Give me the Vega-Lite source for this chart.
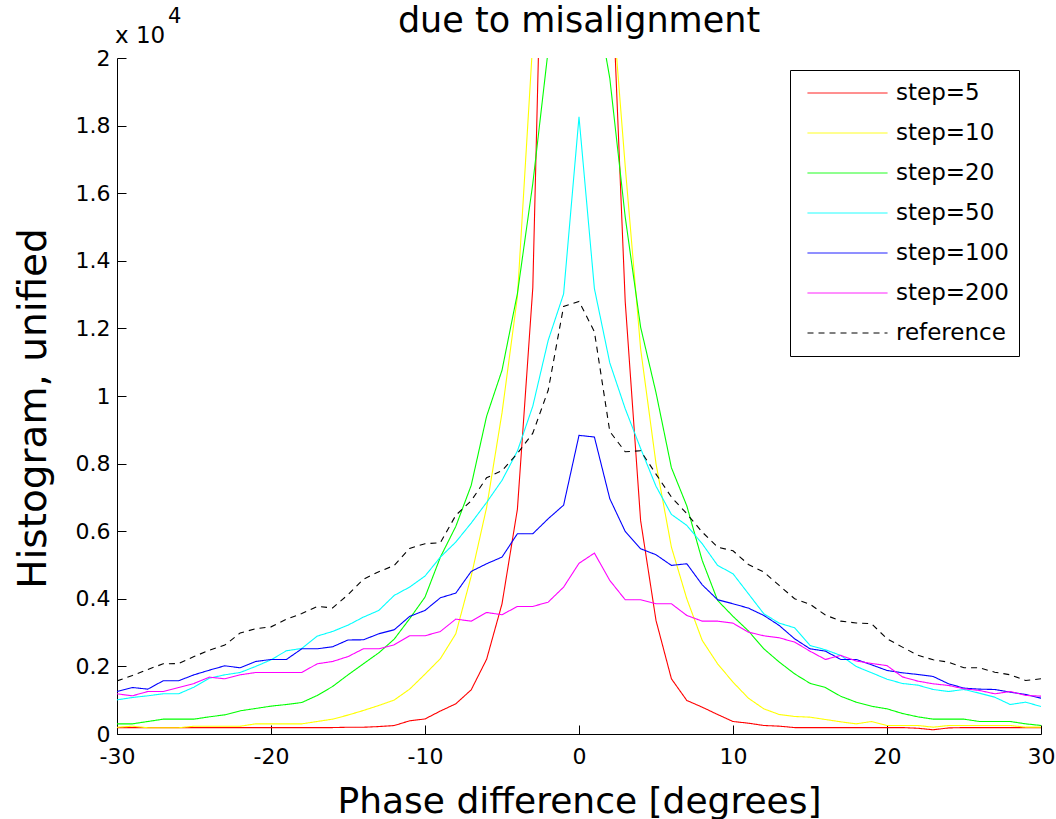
{
  "$schema": "https://vega.github.io/schema/vega-lite/v6.json",
  "width": 924,
  "height": 676,
  "autosize": "none",
  "padding": {"left": 117, "top": 58, "right": 15, "bottom": 85},
  "background": "white",
  "title": {"text": "due to misalignment", "fontSize": 35, "fontWeight": "normal", "font": "DejaVu Sans", "color": "black", "anchor": "middle", "frame": "group", "baseline": "alphabetic", "offset": -61},
  "config": {
    "view": {"stroke": null},
    "font": "DejaVu Sans",
    "axis": {"grid": false, "domainColor": "black", "domainWidth": 1, "tickColor": "black", "tickWidth": 1, "labelColor": "black", "titleColor": "black", "labelFontSize": 22, "titleFontSize": 36, "titleFontWeight": "normal", "labelFont": "DejaVu Sans", "titleFont": "DejaVu Sans", "tickSize": -9, "labelOverlap": false, "labelFlush": false}
  },
  "layer": [
    {
      "data": {"values": [
        {"series":"step=5","phase":-30,"count":190},{"series":"step=5","phase":-29,"count":190},{"series":"step=5","phase":-28,"count":190},{"series":"step=5","phase":-27,"count":190},{"series":"step=5","phase":-26,"count":190},{"series":"step=5","phase":-25,"count":190},{"series":"step=5","phase":-24,"count":190},{"series":"step=5","phase":-23,"count":190},{"series":"step=5","phase":-22,"count":190},{"series":"step=5","phase":-21,"count":190},{"series":"step=5","phase":-20,"count":190},{"series":"step=5","phase":-19,"count":190},{"series":"step=5","phase":-18,"count":190},{"series":"step=5","phase":-17,"count":190},{"series":"step=5","phase":-16,"count":190},{"series":"step=5","phase":-15,"count":200},{"series":"step=5","phase":-14,"count":200},{"series":"step=5","phase":-13,"count":220},{"series":"step=5","phase":-12,"count":250},{"series":"step=5","phase":-11,"count":390},{"series":"step=5","phase":-10,"count":445},{"series":"step=5","phase":-9,"count":680},{"series":"step=5","phase":-8,"count":893},{"series":"step=5","phase":-7,"count":1307},{"series":"step=5","phase":-6,"count":2210},{"series":"step=5","phase":-5,"count":3850},{"series":"step=5","phase":-4,"count":6650},{"series":"step=5","phase":-3,"count":13200},{"series":"step=5","phase":-2,"count":32000},{"series":"step=5","phase":-1,"count":70000},{"series":"step=5","phase":0,"count":90000},{"series":"step=5","phase":1,"count":70000},{"series":"step=5","phase":2,"count":24000},{"series":"step=5","phase":3,"count":12800},{"series":"step=5","phase":4,"count":6320},{"series":"step=5","phase":5,"count":3360},{"series":"step=5","phase":6,"count":1634},{"series":"step=5","phase":7,"count":992},{"series":"step=5","phase":8,"count":794},{"series":"step=5","phase":9,"count":577},{"series":"step=5","phase":10,"count":370},{"series":"step=5","phase":11,"count":320},{"series":"step=5","phase":12,"count":252},{"series":"step=5","phase":13,"count":232},{"series":"step=5","phase":14,"count":190},{"series":"step=5","phase":15,"count":190},{"series":"step=5","phase":16,"count":190},{"series":"step=5","phase":17,"count":190},{"series":"step=5","phase":18,"count":190},{"series":"step=5","phase":19,"count":190},{"series":"step=5","phase":20,"count":190},{"series":"step=5","phase":21,"count":190},{"series":"step=5","phase":22,"count":170},{"series":"step=5","phase":23,"count":125},{"series":"step=5","phase":24,"count":180},{"series":"step=5","phase":25,"count":190},{"series":"step=5","phase":26,"count":190},{"series":"step=5","phase":27,"count":190},{"series":"step=5","phase":28,"count":190},{"series":"step=5","phase":29,"count":190},{"series":"step=5","phase":30,"count":190},
        {"series":"step=10","phase":-30,"count":200},{"series":"step=10","phase":-29,"count":230},{"series":"step=10","phase":-28,"count":185},{"series":"step=10","phase":-27,"count":185},{"series":"step=10","phase":-26,"count":185},{"series":"step=10","phase":-25,"count":230},{"series":"step=10","phase":-24,"count":230},{"series":"step=10","phase":-23,"count":230},{"series":"step=10","phase":-22,"count":230},{"series":"step=10","phase":-21,"count":300},{"series":"step=10","phase":-20,"count":300},{"series":"step=10","phase":-19,"count":300},{"series":"step=10","phase":-18,"count":300},{"series":"step=10","phase":-17,"count":370},{"series":"step=10","phase":-16,"count":440},{"series":"step=10","phase":-15,"count":560},{"series":"step=10","phase":-14,"count":696},{"series":"step=10","phase":-13,"count":844},{"series":"step=10","phase":-12,"count":1005},{"series":"step=10","phase":-11,"count":1326},{"series":"step=10","phase":-10,"count":1770},{"series":"step=10","phase":-9,"count":2230},{"series":"step=10","phase":-8,"count":2965},{"series":"step=10","phase":-7,"count":4670},{"series":"step=10","phase":-6,"count":6700},{"series":"step=10","phase":-5,"count":9500},{"series":"step=10","phase":-4,"count":12930},{"series":"step=10","phase":-3,"count":20500},{"series":"step=10","phase":-2,"count":45000},{"series":"step=10","phase":-1,"count":70000},{"series":"step=10","phase":0,"count":80000},{"series":"step=10","phase":1,"count":70000},{"series":"step=10","phase":2,"count":22600},{"series":"step=10","phase":3,"count":16800},{"series":"step=10","phase":4,"count":11400},{"series":"step=10","phase":5,"count":8000},{"series":"step=10","phase":6,"count":5530},{"series":"step=10","phase":7,"count":4000},{"series":"step=10","phase":8,"count":2770},{"series":"step=10","phase":9,"count":2077},{"series":"step=10","phase":10,"count":1534},{"series":"step=10","phase":11,"count":1060},{"series":"step=10","phase":12,"count":745},{"series":"step=10","phase":13,"count":577},{"series":"step=10","phase":14,"count":518},{"series":"step=10","phase":15,"count":498},{"series":"step=10","phase":16,"count":429},{"series":"step=10","phase":17,"count":360},{"series":"step=10","phase":18,"count":301},{"series":"step=10","phase":19,"count":370},{"series":"step=10","phase":20,"count":252},{"series":"step=10","phase":21,"count":252},{"series":"step=10","phase":22,"count":252},{"series":"step=10","phase":23,"count":202},{"series":"step=10","phase":24,"count":252},{"series":"step=10","phase":25,"count":252},{"series":"step=10","phase":26,"count":252},{"series":"step=10","phase":27,"count":252},{"series":"step=10","phase":28,"count":252},{"series":"step=10","phase":29,"count":202},{"series":"step=10","phase":30,"count":202},
        {"series":"step=20","phase":-30,"count":300},{"series":"step=20","phase":-29,"count":300},{"series":"step=20","phase":-28,"count":370},{"series":"step=20","phase":-27,"count":439},{"series":"step=20","phase":-26,"count":439},{"series":"step=20","phase":-25,"count":439},{"series":"step=20","phase":-24,"count":508},{"series":"step=20","phase":-23,"count":567},{"series":"step=20","phase":-22,"count":686},{"series":"step=20","phase":-21,"count":755},{"series":"step=20","phase":-20,"count":824},{"series":"step=20","phase":-19,"count":873},{"series":"step=20","phase":-18,"count":932},{"series":"step=20","phase":-17,"count":1140},{"series":"step=20","phase":-16,"count":1406},{"series":"step=20","phase":-15,"count":1750},{"series":"step=20","phase":-14,"count":2077},{"series":"step=20","phase":-13,"count":2402},{"series":"step=20","phase":-12,"count":2806},{"series":"step=20","phase":-11,"count":3409},{"series":"step=20","phase":-10,"count":4050},{"series":"step=20","phase":-9,"count":5234},{"series":"step=20","phase":-8,"count":6142},{"series":"step=20","phase":-7,"count":7356},{"series":"step=20","phase":-6,"count":9400},{"series":"step=20","phase":-5,"count":10760},{"series":"step=20","phase":-4,"count":13030},{"series":"step=20","phase":-3,"count":16286},{"series":"step=20","phase":-2,"count":20240},{"series":"step=20","phase":-1,"count":35000},{"series":"step=20","phase":0,"count":50000},{"series":"step=20","phase":1,"count":22000},{"series":"step=20","phase":2,"count":19400},{"series":"step=20","phase":3,"count":15300},{"series":"step=20","phase":4,"count":12040},{"series":"step=20","phase":5,"count":10100},{"series":"step=20","phase":6,"count":7880},{"series":"step=20","phase":7,"count":6750},{"series":"step=20","phase":8,"count":5136},{"series":"step=20","phase":9,"count":3952},{"series":"step=20","phase":10,"count":3480},{"series":"step=20","phase":11,"count":3050},{"series":"step=20","phase":12,"count":2521},{"series":"step=20","phase":13,"count":2130},{"series":"step=20","phase":14,"count":1780},{"series":"step=20","phase":15,"count":1500},{"series":"step=20","phase":16,"count":1376},{"series":"step=20","phase":17,"count":1115},{"series":"step=20","phase":18,"count":942},{"series":"step=20","phase":19,"count":820},{"series":"step=20","phase":20,"count":745},{"series":"step=20","phase":21,"count":607},{"series":"step=20","phase":22,"count":508},{"series":"step=20","phase":23,"count":439},{"series":"step=20","phase":24,"count":439},{"series":"step=20","phase":25,"count":439},{"series":"step=20","phase":26,"count":370},{"series":"step=20","phase":27,"count":370},{"series":"step=20","phase":28,"count":370},{"series":"step=20","phase":29,"count":301},{"series":"step=20","phase":30,"count":252},
        {"series":"step=50","phase":-30,"count":1010},{"series":"step=50","phase":-29,"count":1080},{"series":"step=50","phase":-28,"count":1130},{"series":"step=50","phase":-27,"count":1189},{"series":"step=50","phase":-26,"count":1189},{"series":"step=50","phase":-25,"count":1386},{"series":"step=50","phase":-24,"count":1652},{"series":"step=50","phase":-23,"count":1751},{"series":"step=50","phase":-22,"count":1820},{"series":"step=50","phase":-21,"count":1998},{"series":"step=50","phase":-20,"count":2195},{"series":"step=50","phase":-19,"count":2462},{"series":"step=50","phase":-18,"count":2531},{"series":"step=50","phase":-17,"count":2896},{"series":"step=50","phase":-16,"count":3034},{"series":"step=50","phase":-15,"count":3220},{"series":"step=50","phase":-14,"count":3458},{"series":"step=50","phase":-13,"count":3656},{"series":"step=50","phase":-12,"count":4100},{"series":"step=50","phase":-11,"count":4346},{"series":"step=50","phase":-10,"count":4672},{"series":"step=50","phase":-9,"count":5234},{"series":"step=50","phase":-8,"count":5678},{"series":"step=50","phase":-7,"count":6241},{"series":"step=50","phase":-6,"count":6850},{"series":"step=50","phase":-5,"count":7504},{"series":"step=50","phase":-4,"count":8370},{"series":"step=50","phase":-3,"count":9700},{"series":"step=50","phase":-2,"count":11648},{"series":"step=50","phase":-1,"count":13020},{"series":"step=50","phase":0,"count":18258},{"series":"step=50","phase":1,"count":13178},{"series":"step=50","phase":2,"count":10980},{"series":"step=50","phase":3,"count":9625},{"series":"step=50","phase":4,"count":8450},{"series":"step=50","phase":5,"count":7330},{"series":"step=50","phase":6,"count":6497},{"series":"step=50","phase":7,"count":6172},{"series":"step=50","phase":8,"count":5630},{"series":"step=50","phase":9,"count":4988},{"series":"step=50","phase":10,"count":4741},{"series":"step=50","phase":11,"count":4150},{"series":"step=50","phase":12,"count":3558},{"series":"step=50","phase":13,"count":3280},{"series":"step=50","phase":14,"count":3143},{"series":"step=50","phase":15,"count":2620},{"series":"step=50","phase":16,"count":2492},{"series":"step=50","phase":17,"count":2324},{"series":"step=50","phase":18,"count":1998},{"series":"step=50","phase":19,"count":1811},{"series":"step=50","phase":20,"count":1622},{"series":"step=50","phase":21,"count":1495},{"series":"step=50","phase":22,"count":1445},{"series":"step=50","phase":23,"count":1317},{"series":"step=50","phase":24,"count":1258},{"series":"step=50","phase":25,"count":1317},{"series":"step=50","phase":26,"count":1208},{"series":"step=50","phase":27,"count":1089},{"series":"step=50","phase":28,"count":873},{"series":"step=50","phase":29,"count":942},{"series":"step=50","phase":30,"count":814},
        {"series":"step=100","phase":-30,"count":1258},{"series":"step=100","phase":-29,"count":1376},{"series":"step=100","phase":-28,"count":1327},{"series":"step=100","phase":-27,"count":1575},{"series":"step=100","phase":-26,"count":1575},{"series":"step=100","phase":-25,"count":1751},{"series":"step=100","phase":-24,"count":1889},{"series":"step=100","phase":-23,"count":2018},{"series":"step=100","phase":-22,"count":1959},{"series":"step=100","phase":-21,"count":2146},{"series":"step=100","phase":-20,"count":2205},{"series":"step=100","phase":-19,"count":2205},{"series":"step=100","phase":-18,"count":2521},{"series":"step=100","phase":-17,"count":2521},{"series":"step=100","phase":-16,"count":2580},{"series":"step=100","phase":-15,"count":2782},{"series":"step=100","phase":-14,"count":2787},{"series":"step=100","phase":-13,"count":2965},{"series":"step=100","phase":-12,"count":3083},{"series":"step=100","phase":-11,"count":3478},{"series":"step=100","phase":-10,"count":3656},{"series":"step=100","phase":-9,"count":4031},{"series":"step=100","phase":-8,"count":4168},{"series":"step=100","phase":-7,"count":4810},{"series":"step=100","phase":-6,"count":5037},{"series":"step=100","phase":-5,"count":5234},{"series":"step=100","phase":-4,"count":5925},{"series":"step=100","phase":-3,"count":5925},{"series":"step=100","phase":-2,"count":6369},{"series":"step=100","phase":-1,"count":6770},{"series":"step=100","phase":0,"count":8836},{"series":"step=100","phase":1,"count":8786},{"series":"step=100","phase":2,"count":6961},{"series":"step=100","phase":3,"count":5994},{"series":"step=100","phase":4,"count":5481},{"series":"step=100","phase":5,"count":5304},{"series":"step=100","phase":6,"count":4988},{"series":"step=100","phase":7,"count":5037},{"series":"step=100","phase":8,"count":4415},{"series":"step=100","phase":9,"count":3972},{"series":"step=100","phase":10,"count":3853},{"series":"step=100","phase":11,"count":3725},{"series":"step=100","phase":12,"count":3508},{"series":"step=100","phase":13,"count":3212},{"series":"step=100","phase":14,"count":2817},{"series":"step=100","phase":15,"count":2521},{"series":"step=100","phase":16,"count":2452},{"series":"step=100","phase":17,"count":2205},{"series":"step=100","phase":18,"count":2205},{"series":"step=100","phase":19,"count":2047},{"series":"step=100","phase":20,"count":1880},{"series":"step=100","phase":21,"count":1811},{"series":"step=100","phase":22,"count":1761},{"series":"step=100","phase":23,"count":1702},{"series":"step=100","phase":24,"count":1485},{"series":"step=100","phase":25,"count":1357},{"series":"step=100","phase":26,"count":1327},{"series":"step=100","phase":27,"count":1317},{"series":"step=100","phase":28,"count":1238},{"series":"step=100","phase":29,"count":1169},{"series":"step=100","phase":30,"count":1060},
        {"series":"step=200","phase":-30,"count":1189},{"series":"step=200","phase":-29,"count":1130},{"series":"step=200","phase":-28,"count":1258},{"series":"step=200","phase":-27,"count":1258},{"series":"step=200","phase":-26,"count":1376},{"series":"step=200","phase":-25,"count":1495},{"series":"step=200","phase":-24,"count":1682},{"series":"step=200","phase":-23,"count":1633},{"series":"step=200","phase":-22,"count":1751},{"series":"step=200","phase":-21,"count":1820},{"series":"step=200","phase":-20,"count":1820},{"series":"step=200","phase":-19,"count":1820},{"series":"step=200","phase":-18,"count":1820},{"series":"step=200","phase":-17,"count":2077},{"series":"step=200","phase":-16,"count":2146},{"series":"step=200","phase":-15,"count":2290},{"series":"step=200","phase":-14,"count":2521},{"series":"step=200","phase":-13,"count":2521},{"series":"step=200","phase":-12,"count":2640},{"series":"step=200","phase":-11,"count":2906},{"series":"step=200","phase":-10,"count":2906},{"series":"step=200","phase":-9,"count":3034},{"series":"step=200","phase":-8,"count":3399},{"series":"step=200","phase":-7,"count":3339},{"series":"step=200","phase":-6,"count":3596},{"series":"step=200","phase":-5,"count":3528},{"series":"step=200","phase":-4,"count":3774},{"series":"step=200","phase":-3,"count":3774},{"series":"step=200","phase":-2,"count":3902},{"series":"step=200","phase":-1,"count":4346},{"series":"step=200","phase":0,"count":5050},{"series":"step=200","phase":1,"count":5352},{"series":"step=200","phase":2,"count":4544},{"series":"step=200","phase":3,"count":3972},{"series":"step=200","phase":4,"count":3972},{"series":"step=200","phase":5,"count":3853},{"series":"step=200","phase":6,"count":3853},{"series":"step=200","phase":7,"count":3508},{"series":"step=200","phase":8,"count":3339},{"series":"step=200","phase":9,"count":3339},{"series":"step=200","phase":10,"count":3280},{"series":"step=200","phase":11,"count":3014},{"series":"step=200","phase":12,"count":2906},{"series":"step=200","phase":13,"count":2847},{"series":"step=200","phase":14,"count":2718},{"series":"step=200","phase":15,"count":2450},{"series":"step=200","phase":16,"count":2205},{"series":"step=200","phase":17,"count":2324},{"series":"step=200","phase":18,"count":2160},{"series":"step=200","phase":19,"count":2087},{"series":"step=200","phase":20,"count":2023},{"series":"step=200","phase":21,"count":1690},{"series":"step=200","phase":22,"count":1564},{"series":"step=200","phase":23,"count":1485},{"series":"step=200","phase":24,"count":1436},{"series":"step=200","phase":25,"count":1337},{"series":"step=200","phase":26,"count":1288},{"series":"step=200","phase":27,"count":1189},{"series":"step=200","phase":28,"count":1258},{"series":"step=200","phase":29,"count":1140},{"series":"step=200","phase":30,"count":1120},
        {"series":"reference","phase":-30,"count":1570},{"series":"reference","phase":-29,"count":1730},{"series":"reference","phase":-28,"count":1910},{"series":"reference","phase":-27,"count":2077},{"series":"reference","phase":-26,"count":2085},{"series":"reference","phase":-25,"count":2290},{"series":"reference","phase":-24,"count":2480},{"series":"reference","phase":-23,"count":2630},{"series":"reference","phase":-22,"count":2990},{"series":"reference","phase":-21,"count":3113},{"series":"reference","phase":-20,"count":3170},{"series":"reference","phase":-19,"count":3395},{"series":"reference","phase":-18,"count":3565},{"series":"reference","phase":-17,"count":3774},{"series":"reference","phase":-16,"count":3730},{"series":"reference","phase":-15,"count":4120},{"series":"reference","phase":-14,"count":4580},{"series":"reference","phase":-13,"count":4800},{"series":"reference","phase":-12,"count":4988},{"series":"reference","phase":-11,"count":5490},{"series":"reference","phase":-10,"count":5630},{"series":"reference","phase":-9,"count":5660},{"series":"reference","phase":-8,"count":6470},{"series":"reference","phase":-7,"count":6900},{"series":"reference","phase":-6,"count":7580},{"series":"reference","phase":-5,"count":7790},{"series":"reference","phase":-4,"count":8300},{"series":"reference","phase":-3,"count":8900},{"series":"reference","phase":-2,"count":10170},{"series":"reference","phase":-1,"count":12650},{"series":"reference","phase":0,"count":12800},{"series":"reference","phase":1,"count":11900},{"series":"reference","phase":2,"count":8950},{"series":"reference","phase":3,"count":8350},{"series":"reference","phase":4,"count":8380},{"series":"reference","phase":5,"count":7690},{"series":"reference","phase":6,"count":7010},{"series":"reference","phase":7,"count":6518},{"series":"reference","phase":8,"count":5974},{"series":"reference","phase":9,"count":5529},{"series":"reference","phase":10,"count":5420},{"series":"reference","phase":11,"count":5017},{"series":"reference","phase":12,"count":4790},{"series":"reference","phase":13,"count":4396},{"series":"reference","phase":14,"count":4002},{"series":"reference","phase":15,"count":3840},{"series":"reference","phase":16,"count":3520},{"series":"reference","phase":17,"count":3339},{"series":"reference","phase":18,"count":3285},{"series":"reference","phase":19,"count":3262},{"series":"reference","phase":20,"count":2817},{"series":"reference","phase":21,"count":2570},{"series":"reference","phase":22,"count":2333},{"series":"reference","phase":23,"count":2196},{"series":"reference","phase":24,"count":2125},{"series":"reference","phase":25,"count":1959},{"series":"reference","phase":26,"count":1959},{"series":"reference","phase":27,"count":1829},{"series":"reference","phase":28,"count":1752},{"series":"reference","phase":29,"count":1584},{"series":"reference","phase":30,"count":1633}
      ]},
      "mark": {"type": "line", "clip": true, "strokeWidth": 1.1, "interpolate": "linear"},
      "encoding": {
        "x": {"field": "phase", "type": "quantitative", "scale": {"domain": [-30, 30], "nice": false, "zero": false},
              "axis": {"title": "Phase difference [degrees]", "values": [-30, -20, -10, 0, 10, 20, 30], "labelExpr": "'' + datum.value", "labelPadding": 21, "titleY": 78, "titleBaseline": "alphabetic"}},
        "y": {"field": "count", "type": "quantitative", "scale": {"domain": [0, 20000], "nice": false},
              "axis": {"title": "Histogram, unified", "values": [0, 2000, 4000, 6000, 8000, 10000, 12000, 14000, 16000, 18000, 20000], "labelExpr": "'' + (datum.value / 10000)", "labelPadding": 16, "titleFontSize": 39, "titleAngle": 270, "titleX": -72, "titleY": 350, "titleBaseline": "alphabetic", "titleAlign": "center"}},
        "color": {"field": "series", "type": "nominal",
                  "scale": {"domain": ["step=5", "step=10", "step=20", "step=50", "step=100", "step=200", "reference"], "range": ["#ff0000", "#ffff00", "#00ff00", "#00ffff", "#0000ff", "#ff00ff", "#000000"]},
                  "legend": {"title": null, "orient": "none", "legendX": 673, "legendY": 12, "symbolType": "stroke", "symbolSize": 6400, "symbolStrokeWidth": 1, "symbolOffset": 7, "labelOffset": 8, "labelFontSize": 23, "labelFont": "DejaVu Sans", "labelColor": "black", "clipHeight": 26, "rowPadding": 14, "padding": 10, "strokeColor": "black", "fillColor": "white", "labelLimit": 300}},
        "strokeDash": {"field": "series", "type": "nominal",
                  "scale": {"domain": ["step=5", "step=10", "step=20", "step=50", "step=100", "step=200", "reference"], "range": [[1, 0], [1, 0], [1, 0], [1, 0], [1, 0], [1, 0], [6, 5]]},
                  "legend": {"title": null, "orient": "none", "legendX": 673, "legendY": 12, "symbolType": "stroke", "symbolSize": 6400, "symbolStrokeWidth": 1, "symbolOffset": 7, "labelOffset": 8, "labelFontSize": 23, "labelFont": "DejaVu Sans", "labelColor": "black", "clipHeight": 26, "rowPadding": 14, "padding": 10, "strokeColor": "black", "fillColor": "white", "labelLimit": 300}}
      }
    },
    {
      "data": {"values": [{}]},
      "mark": {"type": "text", "text": "x 10", "align": "left", "baseline": "alphabetic", "fontSize": 23, "font": "DejaVu Sans", "color": "black", "dx": -2, "dy": -15},
      "encoding": {"x": {"datum": -30}, "y": {"datum": 20000}}
    },
    {
      "data": {"values": [{}]},
      "mark": {"type": "text", "text": "4", "align": "left", "baseline": "alphabetic", "fontSize": 21, "font": "DejaVu Sans", "color": "black", "dx": 51, "dy": -35},
      "encoding": {"x": {"datum": -30}, "y": {"datum": 20000}}
    }
  ]
}
